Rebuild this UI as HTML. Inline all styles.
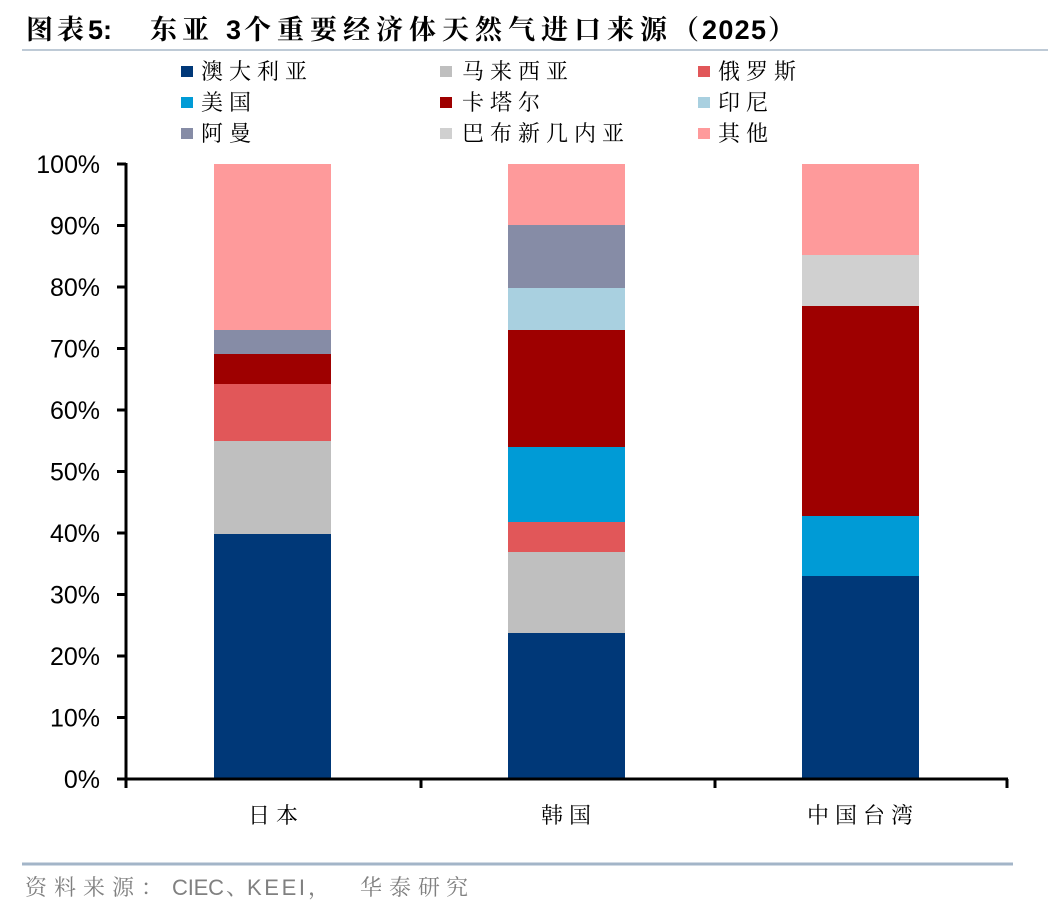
<!DOCTYPE html>
<html>
<head>
<meta charset="utf-8">
<style>
  html, body { margin: 0; padding: 0; background: #ffffff; }
  body { width: 1048px; height: 912px; overflow: hidden; }
  svg { display: block; }
  .cjk { font-family: "Liberation Serif", "Noto Serif CJK SC", serif; }
  .lat { font-family: "Liberation Sans", "Noto Sans CJK SC", sans-serif; }
</style>
</head>
<body>
<svg width="1048" height="912" viewBox="0 0 1048 912" xmlns="http://www.w3.org/2000/svg">
  <rect x="0" y="0" width="1048" height="912" fill="#ffffff"/>

  <!-- Title -->
  <text class="cjk" font-size="27" font-weight="700" fill="#000" y="39" x="26 57">图表</text>
  <text class="lat" font-size="27" font-weight="700" fill="#000" y="39" x="88">5:</text>
  <text class="cjk" font-size="27" font-weight="700" fill="#000" y="39" x="150 182">东亚</text>
  <text class="lat" font-size="27" font-weight="700" fill="#000" y="39" x="226">3</text>
  <text class="cjk" font-size="27" font-weight="700" fill="#000" y="39"
        x="244 277 310 343 376 409 442 475 508 541 574 607 640 672">个重要经济体天然气进口来源（</text>
  <text class="lat" font-size="27" font-weight="700" fill="#000" y="39" x="702" textLength="64" lengthAdjust="spacing">2025</text>
  <text class="cjk" font-size="27" font-weight="700" fill="#000" y="39" x="768">）</text>

  <!-- top divider -->
  <line x1="22" y1="50" x2="1048" y2="50" stroke="#a9b8c9" stroke-width="1.5"/>

  <!-- Legend -->
  <g>
    <rect x="181" y="66" width="12" height="11" fill="#003878"/>
    <text class="cjk" font-size="22" fill="#000" y="79" x="201 229 257 285">澳大利亚</text>
    <rect x="181" y="97" width="12" height="11" fill="#009bd6"/>
    <text class="cjk" font-size="22" fill="#000" y="110" x="201 229">美国</text>
    <rect x="181" y="128" width="12" height="11" fill="#868ca6"/>
    <text class="cjk" font-size="22" fill="#000" y="141" x="201 229">阿曼</text>

    <rect x="440" y="66" width="12" height="11" fill="#bfbfbf"/>
    <text class="cjk" font-size="22" fill="#000" y="79" x="462 490 518 546">马来西亚</text>
    <rect x="440" y="97" width="12" height="11" fill="#9e0000"/>
    <text class="cjk" font-size="22" fill="#000" y="110" x="462 490 518">卡塔尔</text>
    <rect x="440" y="128" width="12" height="11" fill="#d0d0d0"/>
    <text class="cjk" font-size="22" fill="#000" y="141" x="462 490 518 546 574 602">巴布新几内亚</text>

    <rect x="698" y="66" width="12" height="11" fill="#e15759"/>
    <text class="cjk" font-size="22" fill="#000" y="79" x="718 746 774">俄罗斯</text>
    <rect x="698" y="97" width="12" height="11" fill="#a9d0e0"/>
    <text class="cjk" font-size="22" fill="#000" y="110" x="718 746">印尼</text>
    <rect x="698" y="128" width="12" height="11" fill="#fe9a9b"/>
    <text class="cjk" font-size="22" fill="#000" y="141" x="718 746">其他</text>
  </g>

  <!-- Bars: Japan -->
  <rect x="214" y="534" width="117" height="245" fill="#003878"/>
  <rect x="214" y="441" width="117" height="93" fill="#bfbfbf"/>
  <rect x="214" y="384" width="117" height="57" fill="#e15759"/>
  <rect x="214" y="354" width="117" height="30" fill="#9e0000"/>
  <rect x="214" y="330" width="117" height="24" fill="#868ca6"/>
  <rect x="214" y="164" width="117" height="166" fill="#fe9a9b"/>

  <!-- Bars: Korea -->
  <rect x="508" y="633" width="117" height="146" fill="#003878"/>
  <rect x="508" y="552" width="117" height="81" fill="#bfbfbf"/>
  <rect x="508" y="522" width="117" height="30" fill="#e15759"/>
  <rect x="508" y="447" width="117" height="75" fill="#009bd6"/>
  <rect x="508" y="330" width="117" height="117" fill="#9e0000"/>
  <rect x="508" y="288" width="117" height="42" fill="#a9d0e0"/>
  <rect x="508" y="225" width="117" height="63" fill="#868ca6"/>
  <rect x="508" y="164" width="117" height="61" fill="#fe9a9b"/>

  <!-- Bars: Taiwan -->
  <rect x="802" y="576" width="117" height="203" fill="#003878"/>
  <rect x="802" y="516" width="117" height="60" fill="#009bd6"/>
  <rect x="802" y="306" width="117" height="210" fill="#9e0000"/>
  <rect x="802" y="255" width="117" height="51" fill="#d0d0d0"/>
  <rect x="802" y="164" width="117" height="91" fill="#fe9a9b"/>

  <!-- Axes -->
  <g stroke="#000" stroke-width="3" fill="none">
    <line x1="126" y1="163" x2="126" y2="780"/>
    <line x1="117" y1="779" x2="1008" y2="779"/>
    <line x1="117" y1="164" x2="126" y2="164"/>
    <line x1="117" y1="225.5" x2="126" y2="225.5"/>
    <line x1="117" y1="287" x2="126" y2="287"/>
    <line x1="117" y1="348.5" x2="126" y2="348.5"/>
    <line x1="117" y1="410" x2="126" y2="410"/>
    <line x1="117" y1="471.5" x2="126" y2="471.5"/>
    <line x1="117" y1="533" x2="126" y2="533"/>
    <line x1="117" y1="594.5" x2="126" y2="594.5"/>
    <line x1="117" y1="656" x2="126" y2="656"/>
    <line x1="117" y1="717.5" x2="126" y2="717.5"/>
    <line x1="126" y1="779" x2="126" y2="788"/>
    <line x1="421" y1="779" x2="421" y2="788"/>
    <line x1="715" y1="779" x2="715" y2="788"/>
    <line x1="1007" y1="779" x2="1007" y2="788"/>
  </g>

  <!-- Y tick labels -->
  <g class="lat" font-size="25" fill="#000" text-anchor="end">
    <text x="78" y="173">100</text><text x="100" y="173">%</text>
    <text x="100" y="234.5">90%</text>
    <text x="100" y="296">80%</text>
    <text x="100" y="357.5">70%</text>
    <text x="100" y="419">60%</text>
    <text x="100" y="480.5">50%</text>
    <text x="100" y="542">40%</text>
    <text x="100" y="603.5">30%</text>
    <text x="100" y="665">20%</text>
    <text x="100" y="726.5">10%</text>
    <text x="100" y="788">0%</text>
  </g>

  <!-- X labels -->
  <text class="cjk" font-size="22" fill="#000" y="823" x="248 276">日本</text>
  <text class="cjk" font-size="22" fill="#000" y="823" x="541 569">韩国</text>
  <text class="cjk" font-size="22" fill="#000" y="823" x="807 835 863 891">中国台湾</text>

  <!-- bottom divider -->
  <line x1="22" y1="864" x2="1013" y2="864" stroke="#a3b5c8" stroke-width="3"/>

  <!-- Source -->
  <text class="cjk" font-size="22" fill="#808080" y="895" x="25 54 83 112 141">资料来源：</text>
  <text class="lat" font-size="22" fill="#808080" y="895" x="172" textLength="52" lengthAdjust="spacing">CIEC</text>
  <text class="cjk" font-size="22" fill="#808080" y="895" x="226">、</text>
  <text class="lat" font-size="22" fill="#808080" y="895" x="247" textLength="58" lengthAdjust="spacing">KEEI</text>
  <text class="cjk" font-size="22" fill="#808080" y="895" x="308">，</text>
  <text class="cjk" font-size="22" fill="#808080" y="895" x="360 389 418 446">华泰研究</text>
</svg>
</body>
</html>
